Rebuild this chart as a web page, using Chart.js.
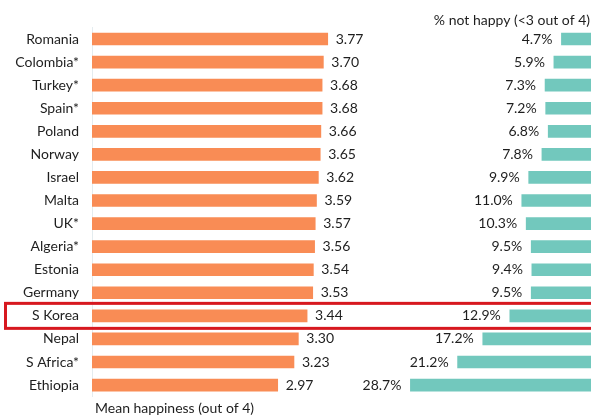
<!DOCTYPE html>
<html><head><meta charset="utf-8">
<script src="https://cdn.jsdelivr.net/npm/chart.js@4"></script>
<style>html,body{margin:0;padding:0;background:#fff;}#wrap{width:591px;height:420px;position:relative;}</style>
</head><body><div id="wrap"><canvas id="c" width="591" height="420"></canvas></div>
<script>
const countries = ["Romania","Colombia*","Turkey*","Spain*","Poland","Norway","Israel","Malta","UK*","Algeria*","Estonia","Germany","S Korea","Nepal","S Africa*","Ethiopia"];
const meanHappiness = [3.77,3.70,3.68,3.68,3.66,3.65,3.62,3.59,3.57,3.56,3.54,3.53,3.44,3.30,3.23,2.97];
const pctNotHappy = [4.7,5.9,7.3,7.2,6.8,7.8,9.9,11.0,10.3,9.5,9.4,9.5,12.9,17.2,21.2,28.7];
const highlight = "S Korea";
const leftTitle = "Mean happiness (out of 4)";
const rightTitle = "% not happy (<3 out of 4)";

const FONT = "Lato, 'DejaVu Sans', sans-serif";
const labelsPlugin = {
  id: 'labels',
  afterDatasetsDraw(chart) {
    const ctx = chart.ctx;
    ctx.save();
    ctx.font = "14px " + FONT;
    ctx.fillStyle = "#1e1e1e";
    ctx.textBaseline = "middle";
    const m0 = chart.getDatasetMeta(0), m1 = chart.getDatasetMeta(1);
    m0.data.forEach((b, i) => {
      ctx.textAlign = "left";
      ctx.fillText(meanHappiness[i].toFixed(2), b.x + 8, b.y);
    });
    m1.data.forEach((b, i) => {
      ctx.textAlign = "right";
      ctx.fillText(pctNotHappy[i].toFixed(1) + "%", b.x - 9, b.y);
    });
    // axis titles
    ctx.textAlign = "left";
    ctx.fillText(leftTitle, 95, 408);
    ctx.textAlign = "right";
    ctx.fillText(rightTitle, 590, 20);
    // highlight box
    const yS = chart.scales.y;
    const idx = countries.indexOf(highlight);
    const yc = yS.getPixelForValue(idx);
    ctx.strokeStyle = "#d7181f";
    ctx.lineWidth = 3;
    ctx.strokeRect(5.5, yc - 12.5, 600, 25);
    ctx.restore();
  }
};

new Chart(document.getElementById('c'), {
  type: 'bar',
  data: {
    labels: countries,
    datasets: [
      { data: meanHappiness, xAxisID: 'x', backgroundColor: '#f98c55', barThickness: 12, grouped: false },
      { data: pctNotHappy, xAxisID: 'x2', backgroundColor: '#72c8bd', barThickness: 12, grouped: false }
    ]
  },
  options: {
    indexAxis: 'y',
    responsive: false,
    animation: false,
    events: [],
    layout: { padding: { top: 27.5, bottom: 23.4, left: 0, right: 0 } },
    plugins: { legend: { display: false }, tooltip: { enabled: false } },
    scales: {
      x: { display: false, min: 0, max: 7.98 },
      x2: { display: false, min: 0, max: 79.3, reverse: true },
      y: {
        afterFit(s) { s.width = 92; },
        grid: { display: false, drawTicks: false },
        border: { display: true, color: '#e4ecef', width: 1 },
        ticks: { padding: 13, color: '#1e1e1e', font: { family: FONT, size: 14 } }
      }
    }
  },
  plugins: [labelsPlugin]
});
</script></body></html>
